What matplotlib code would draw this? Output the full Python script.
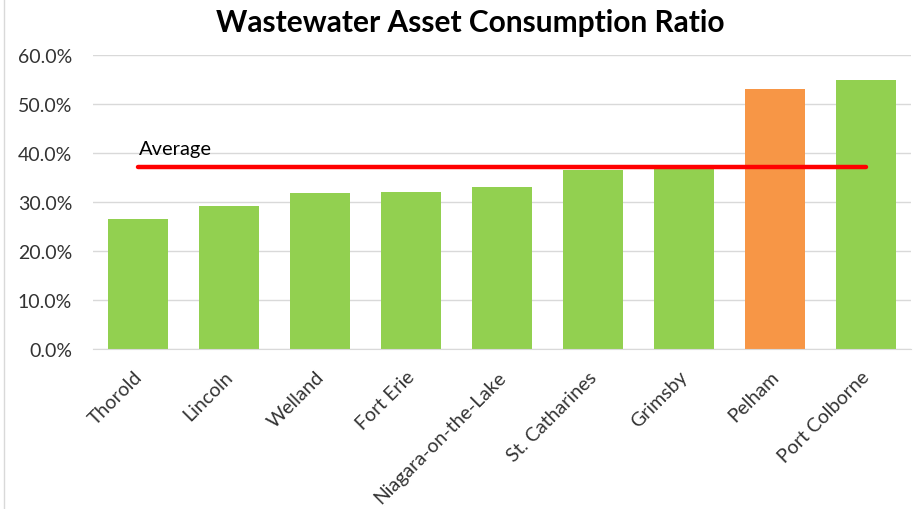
import matplotlib
matplotlib.use("Agg")
import matplotlib.pyplot as plt
from matplotlib.ticker import PercentFormatter
from matplotlib.lines import Line2D
import matplotlib.transforms as mtrans

categories = ["Thorold", "Lincoln", "Welland", "Fort Erie", "Niagara-on-the-Lake",
              "St. Catharines", "Grimsby", "Pelham", "Port Colborne"]
values = [0.265, 0.291, 0.318, 0.320, 0.331, 0.366, 0.367, 0.531, 0.550]
highlight = "Pelham"
average = 0.372

plt.rcParams['font.family'] = ['Lato', 'DejaVu Sans']

fig = plt.figure(figsize=(9.15, 5.1), dpi=100)
ax = fig.add_axes([93/915, 1-350/510, (911-93)/915, (350-56)/510])

x = list(range(len(categories)))
colors = ["#F79646" if c == highlight else "#92D050" for c in categories]
ax.bar(x, values, width=0.66, color=colors, zorder=2)
ax.plot([x[0], x[-1]], [average, average], color="#FF0000", linewidth=3.2,
        solid_capstyle="round", zorder=3)
ax.text(x[0] + 0.01, average + 0.026, "Average", fontsize=14.5, color="#000000",
        ha="left", va="baseline", zorder=4)

ax.set_xlim(-0.5, len(categories) - 0.5)
ax.set_ylim(0, 0.6)
ax.set_yticks([0, 0.1, 0.2, 0.3, 0.4, 0.5, 0.6])
ax.yaxis.set_major_formatter(PercentFormatter(1.0, decimals=1))
ax.grid(axis="y", color="#D9D9D9", linewidth=1, zorder=0)
for s in ["top", "right", "left"]:
    ax.spines[s].set_visible(False)
ax.spines["bottom"].set_color("#D9D9D9")
ax.tick_params(axis="y", length=0, labelsize=14, pad=15, labelcolor="#333333")
ax.tick_params(axis="x", length=0, labelsize=14, labelcolor="#333333")
ax.set_xticks(x)
ax.set_xticklabels(categories, rotation=45, ha="right", va="center", rotation_mode="anchor")
offset = mtrans.ScaledTranslation(1/100, -20/100, fig.dpi_scale_trans)
for lbl in ax.get_xticklabels():
    lbl.set_transform(lbl.get_transform() + offset)

fig.text(470/915, 1-23/510, "Wastewater Asset Consumption Ratio", fontsize=21.5,
         fontweight="bold", ha="center", va="center", color="#000000")

fig.add_artist(Line2D([3.5/915, 3.5/915], [0, 1], transform=fig.transFigure,
                      color="#D9D9D9", linewidth=1))

fig.savefig("out.png", dpi=100)
